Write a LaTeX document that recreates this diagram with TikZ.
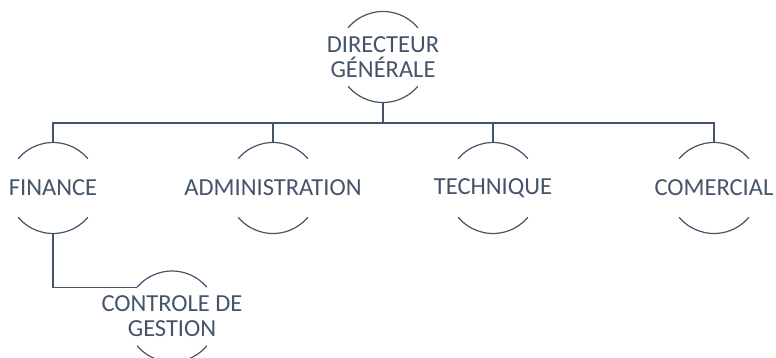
\documentclass[tikz,border=0pt]{standalone}
\usepackage{fontspec}
\setmainfont{Carlito}
\definecolor{slate}{HTML}{44546A}
\begin{document}
\begin{tikzpicture}[x=1pt,y=1pt,every node/.style={circle,minimum size=91pt,inner sep=0pt,outer sep=0pt},
  every label/.style={rectangle,minimum size=0pt,align=center,text=slate,font=\fontsize{24.5}{25}\selectfont}]
			\useasboundingbox (0,0) rectangle (776,357);

			%top node
			\node [label=center:{DIRECTEUR\\GÉNÉRALE}] (dir) at (383,300) {};

			%service nodes
			\node [label=center:{FINANCE}] (fin) at (53,169) {};
			\node [label=center:{ADMINISTRATION}] (adm) at (273,169) {};
			\node [label=center:{TECHNIQUE}] (tec) at (493,169) {};
			\node [label=center:{COMERCIAL}] (com) at (714,169) {};

			%sub node
			\node [label=center:{CONTROLE DE\\GESTION}] (ctl) at (172,40.5) {};
			\coordinate (bus) at (383,234);

			%arcs
			\foreach \n in {dir,fin,adm,tec,com,ctl} {
				\draw[slate,line width=1.2pt] (\n.140) arc[start angle=140,end angle=40,radius=45.5pt];
				\draw[slate,line width=1.2pt] (\n.220) arc[start angle=220,end angle=320,radius=45.5pt];
			}

			%edges
			\draw[slate,line width=1.2pt] (dir.south) -- (bus);
			\draw[slate,line width=1.2pt] (fin.north) -- (fin.north |- bus) -- (com.north |- bus) -- (com.north);
			\draw[slate,line width=1.2pt] (adm.north) -- (adm.north |- bus);
			\draw[slate,line width=1.2pt] (tec.north) -- (tec.north |- bus);
			\draw[slate,line width=1.2pt] (fin.south) |- (ctl.140);
		\end{tikzpicture}
\end{document}
